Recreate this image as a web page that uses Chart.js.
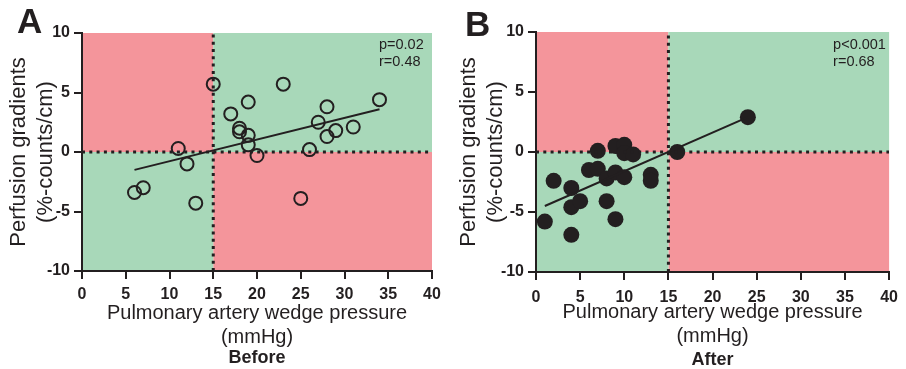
<!DOCTYPE html>
<html>
<head>
<meta charset="utf-8">
<script src="https://cdn.jsdelivr.net/npm/chart.js@4/dist/chart.umd.min.js"></script>
<style>
  html, body { margin: 0; padding: 0; background: #fff; }
  #wrap { position: relative; width: 906px; height: 369px; }
  .panel { position: absolute; top: 0; }
  #panelA { left: 0; }
  #panelB { left: 450px; }
</style>
</head>
<body>
<div id="wrap">
  <div class="panel" id="panelA" style="width:450px;height:369px"><canvas id="chartA"></canvas></div>
  <div class="panel" id="panelB" style="width:456px;height:369px"><canvas id="chartB"></canvas></div>
</div>
<script>
// Perfusion gradient vs wedge pressure, before / after.

const xTicks = [0, 5, 10, 15, 20, 25, 30, 35, 40];
const yTicks = [-10, -5, 0, 5, 10];
const cutX = 15;   // wedge pressure threshold
const cutY = 0;    // gradient threshold

// Before (open circles)
const beforeX = [15, 23, 19, 34, 28, 17, 27, 18, 18, 19, 31, 29, 28, 19, 20, 26, 11, 12, 7, 6, 13, 25];
const beforeY = [5.7, 5.7, 4.2, 4.4, 3.8, 3.2, 2.5, 2.0, 1.7, 1.4, 2.1, 1.8, 1.3, 0.6, -0.3, 0.2, 0.3, -1.0, -3.0, -3.4, -4.3, -3.9];
const beforeFitX = [6, 34];
const beforeFitY = [-1.5, 3.6];
const beforeStats = ['p=0.02', 'r=0.48'];

// After (filled circles)
const afterX = [1, 2, 4, 4, 5, 4, 7, 6, 7, 8, 8, 9, 9, 9, 10, 10, 11, 10, 13, 13, 16, 24];
const afterY = [-5.8, -2.4, -3.0, -4.6, -4.1, -6.9, 0.1, -1.5, -1.4, -2.2, -4.1, -1.7, -5.6, 0.5, 0.6, -0.1, -0.2, -2.1, -1.9, -2.4, 0.0, 2.9];
const afterFitX = [1, 24];
const afterFitY = [-4.5, 2.9];
const afterStats = ['p<0.001', 'r=0.68'];

const DARK = '#231f20';
const PINK = '#f4959b';
const GREEN = '#a8d8b9';
const FONT = "'Liberation Sans', Arial, Helvetica, sans-serif";

Chart.defaults.font.family = FONT;
Chart.defaults.color = DARK;

const pts = (xs, ys) => xs.map((x, i) => ({ x, y: ys[i] }));

// coloured quadrants behind everything
const quadrants = {
  id: 'quadrants',
  beforeDraw(chart) {
    const { ctx, chartArea: a, scales: { x, y } } = chart;
    const cx = x.getPixelForValue(cutX);
    const cy = y.getPixelForValue(cutY);
    ctx.save();
    ctx.fillStyle = PINK;
    ctx.fillRect(a.left, a.top, cx - a.left, cy - a.top);
    ctx.fillRect(cx, cy, a.right - cx, a.bottom - cy);
    ctx.fillStyle = GREEN;
    ctx.fillRect(cx, a.top, a.right - cx, cy - a.top);
    ctx.fillRect(a.left, cy, cx - a.left, a.bottom - cy);
    ctx.restore();
  }
};

// panel letter, stats and the Before/After caption
const labels = {
  id: 'labels',
  afterDraw(chart, args, o) {
    const { ctx, chartArea: a } = chart;
    ctx.save();
    ctx.fillStyle = DARK;
    ctx.textBaseline = 'alphabetic';
    ctx.textAlign = 'left';
    ctx.font = `bold 35px ${FONT}`;
    ctx.fillText(o.letter, o.letterX, o.letterY);

    ctx.font = `14.5px ${FONT}`;
    ctx.textBaseline = 'middle';
    o.stats.forEach((s, i) => ctx.fillText(s, a.right - o.statsDx, 45 + i * 17));

    ctx.font = `bold 18px ${FONT}`;
    ctx.textAlign = 'center';
    ctx.fillText(o.caption, (a.left + a.right) / 2, o.captionY);
    ctx.restore();
  }
};

function makePanel(id, cfg) {
  const ctx = document.getElementById(id).getContext('2d');
  return new Chart(ctx, {
    type: 'scatter',
    data: {
      datasets: [
        {
          data: [{ x: xTicks[0], y: cutY }, { x: xTicks[xTicks.length - 1], y: cutY }],
          showLine: true, borderColor: DARK, borderWidth: 3, borderDash: [3, 4.3],
          pointRadius: 0
        },
        {
          data: [{ x: cutX, y: yTicks[0] }, { x: cutX, y: yTicks[yTicks.length - 1] }],
          showLine: true, borderColor: DARK, borderWidth: 3, borderDash: [3, 4.3],
          pointRadius: 0
        },
        {
          data: pts(cfg.fitX, cfg.fitY),
          showLine: true, borderColor: DARK, borderWidth: 2, pointRadius: 0
        },
        {
          data: pts(cfg.xs, cfg.ys),
          pointRadius: cfg.radius,
          pointBorderWidth: cfg.filled ? 0 : 2,
          pointBorderColor: DARK,
          pointBackgroundColor: cfg.filled ? DARK : 'rgba(0,0,0,0)'
        }
      ]
    },
    options: {
      responsive: true,
      maintainAspectRatio: false,
      animation: false,
      events: [],
      layout: { padding: { top: cfg.top, right: cfg.right, left: 0, bottom: 0 } },
      plugins: {
        legend: { display: false },
        tooltip: { enabled: false },
        labels: cfg.labels
      },
      scales: {
        x: {
          type: 'linear', min: xTicks[0], max: xTicks[xTicks.length - 1],
          afterFit: (s) => { s.height = cfg.xHeight; },
          afterBuildTicks: (s) => { s.ticks = xTicks.map(v => ({ value: v })); },
          ticks: { font: { size: 16, weight: 'bold' }, padding: cfg.xPad, color: DARK, maxRotation: 0 },
          grid: { drawOnChartArea: false, drawTicks: true, tickLength: 8, color: DARK, lineWidth: 2 },
          border: { display: true, color: DARK, width: 2 },
          title: {
            display: true, text: ['Pulmonary artery wedge pressure', '(mmHg)'],
            font: { size: 20, lineHeight: 1.2 }, color: DARK,
            padding: { top: 0, bottom: cfg.xTitlePad }
          }
        },
        y: {
          type: 'linear', min: yTicks[0], max: yTicks[yTicks.length - 1],
          afterFit: (s) => { s.width = cfg.yWidth; },
          afterBuildTicks: (s) => { s.ticks = yTicks.map(v => ({ value: v })); },
          ticks: { font: { size: 16, weight: 'bold' }, padding: 4, color: DARK },
          grid: { drawOnChartArea: false, drawTicks: true, tickLength: 8, color: DARK, lineWidth: 2 },
          border: { display: true, color: DARK, width: 2 },
          title: {
            display: true, text: ['Perfusion gradients', '(%-counts/cm)'],
            font: { size: 22, lineHeight: 1.2 }, color: DARK,
            padding: { top: cfg.yTitlePad, bottom: 0 }
          }
        }
      }
    },
    plugins: [quadrants, labels]
  });
}

makePanel('chartA', {
  xs: beforeX, ys: beforeY, fitX: beforeFitX, fitY: beforeFitY,
  filled: false, radius: 6.5,
  top: 33, right: 18, yWidth: 82, xHeight: 98, xPad: 6, xTitlePad: 20, yTitlePad: 6,
  labels: { letter: 'A', letterX: 17, letterY: 33, stats: beforeStats, statsDx: 53, caption: 'Before', captionY: 358 }
});

makePanel('chartB', {
  xs: afterX, ys: afterY, fitX: afterFitX, fitY: afterFitY,
  filled: true, radius: 8,
  top: 32, right: 11, yWidth: 86, xHeight: 97, xPad: 8, xTitlePad: 21, yTitlePad: 6,
  labels: { letter: 'B', letterX: 15, letterY: 36, stats: afterStats, statsDx: 56, caption: 'After', captionY: 360 }
});
</script>
</body>
</html>
